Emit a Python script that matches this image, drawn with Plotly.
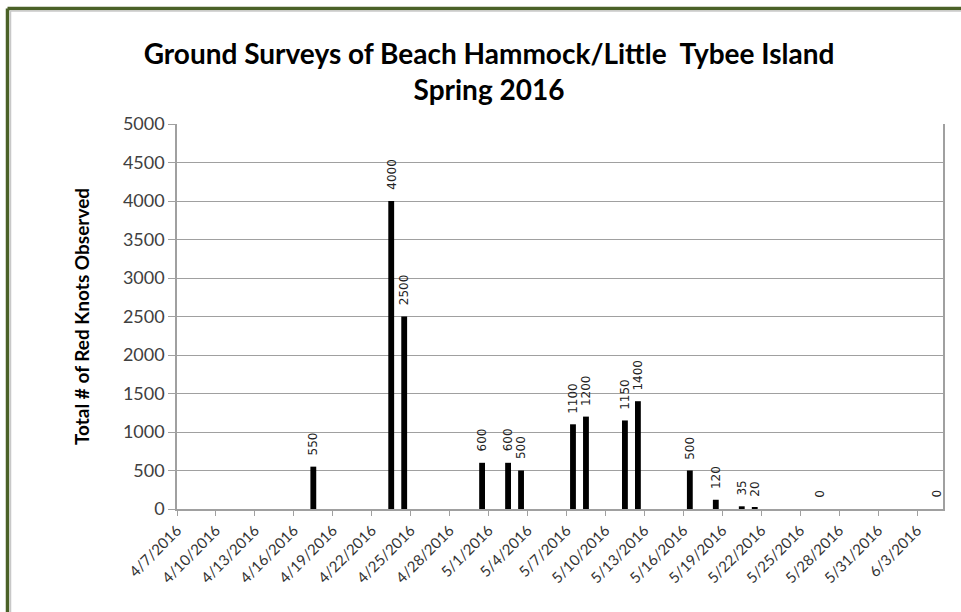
import pandas as pd
import plotly.graph_objects as go

survey_dates = ["2016-04-17", "2016-04-23", "2016-04-24", "2016-04-30", "2016-05-02",
                "2016-05-03", "2016-05-07", "2016-05-08", "2016-05-11", "2016-05-12",
                "2016-05-16", "2016-05-18", "2016-05-20", "2016-05-21", "2016-05-26",
                "2016-06-04"]
red_knots = [550, 4000, 2500, 600, 600, 500, 1100, 1200, 1150, 1400, 500, 120, 35, 20, 0, 0]

title_text = "Ground Surveys of Beach Hammock/Little  Tybee Island<br>Spring 2016"
y_title = "Total # of Red Knots Observed"

DAY = 86400000
FONT = "Lato"

L, R, T, B = 177, 943, 124, 509
W, H = 961, 612

fig = go.Figure()
fig.add_trace(go.Bar(
    x=survey_dates, y=red_knots,
    xperiod=DAY, xperiodalignment="middle",
    width=0.45 * DAY,
    marker=dict(color="black", line=dict(width=0)),
))

mid = pd.to_datetime(survey_dates) + pd.Timedelta(hours=12)
for d, v in zip(mid, red_knots):
    fig.add_annotation(
        x=d.strftime("%Y-%m-%d %H:%M"), y=v, xref="x", yref="y",
        text=str(v), textangle=-90, showarrow=False,
        yanchor="bottom", xanchor="center", yshift=9,
        font=dict(family="DejaVu Sans", size=12, color="#222222"),
    )

fig.update_layout(
    width=W, height=H,
    margin=dict(l=L, r=W - R, t=T, b=H - B),
    paper_bgcolor="white", plot_bgcolor="white",
    showlegend=False,
    title=dict(text=title_text, x=489 / W, xanchor="center",
               y=1 - 64 / H, yanchor="middle",
               font=dict(family=FONT, size=28, color="black", weight="bold")),
    xaxis=dict(
        type="date", range=["2016-04-07", "2016-06-05"],
        tick0="2016-04-07", dtick=3 * DAY, tickformat="%-m/%-d/%Y",
        tickangle=-45, ticks="outside", ticklen=5, tickcolor="#a0a0a0",
        showline=True, linecolor="#a0a0a0", linewidth=1.5,
        showgrid=False, zeroline=False,
        tickfont=dict(family=FONT, size=15, color="#333333"),
    ),
    yaxis=dict(
        range=[0, 5000], dtick=500, ticks="outside", ticklen=7, tickcolor="#a0a0a0",
        showline=True, linecolor="#a0a0a0", linewidth=1.5, mirror=True,
        showgrid=True, gridcolor="#a0a0a0", gridwidth=1, zeroline=False,
        tickfont=dict(family=FONT, size=18, color="#404040"),
        title=dict(text=y_title, standoff=28,
                   font=dict(family=FONT, size=19, color="black", weight="bold")),
    ),
)

# outer frame (dark green) around the chart area
def px_x(p):
    return (p - L) / (R - L)

def px_y(p):
    return (B - p) / (B - T)

fig.add_shape(type="line", xref="paper", yref="paper",
              x0=px_x(7.5), x1=px_x(975), y0=px_y(8.5), y1=px_y(8.5),
              line=dict(color="#4a6127", width=3.5))
fig.add_shape(type="line", xref="paper", yref="paper",
              x0=px_x(7.5), x1=px_x(7.5), y0=px_y(8.5), y1=px_y(625),
              line=dict(color="#4a6127", width=3.5))
fig.add_shape(type="line", xref="paper", yref="paper",
              x0=px_x(10.5), x1=px_x(975), y0=px_y(11), y1=px_y(11),
              line=dict(color="#c8c8c8", width=1.5))
fig.add_shape(type="line", xref="paper", yref="paper",
              x0=px_x(10.5), x1=px_x(10.5), y0=px_y(11), y1=px_y(625),
              line=dict(color="#c8c8c8", width=1.5))

fig.write_html("out.html", config={"displayModeBar": False},
               post_script="document.body.style.margin='0';document.body.style.overflow='hidden';")
